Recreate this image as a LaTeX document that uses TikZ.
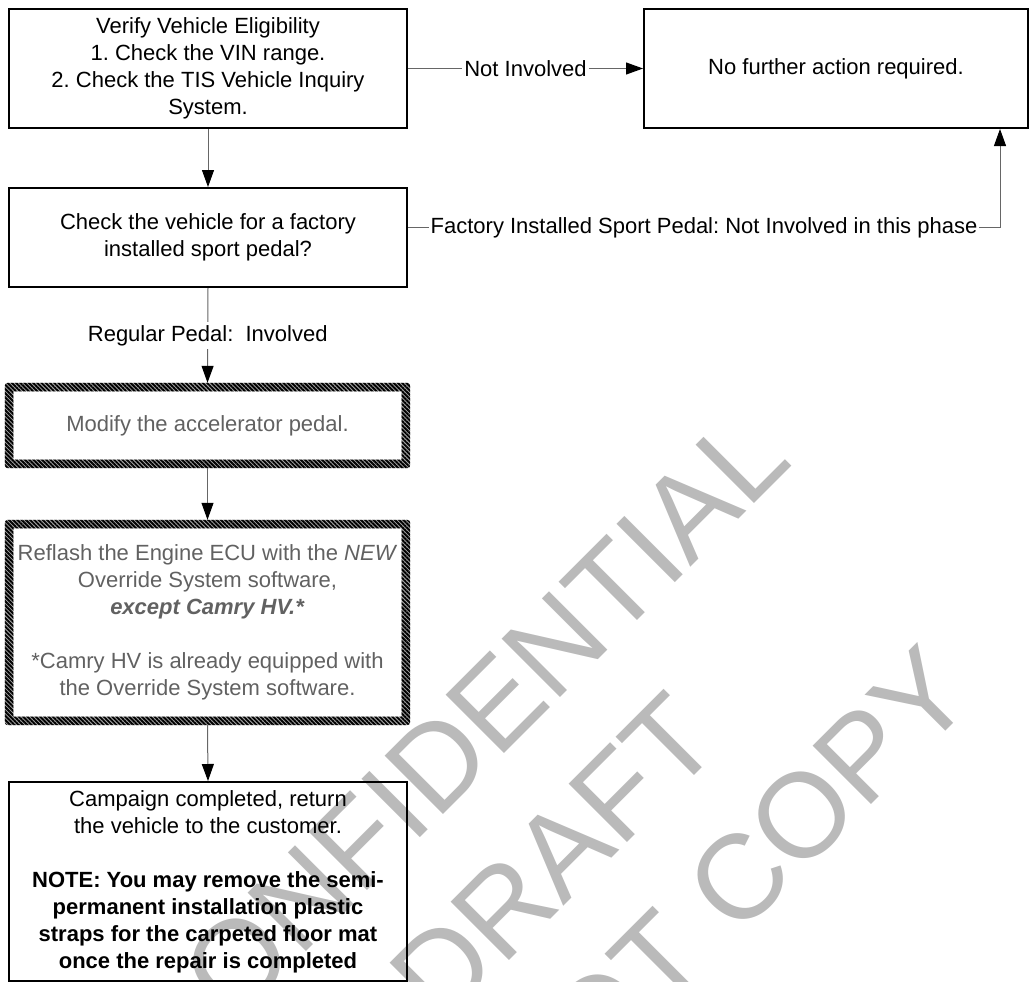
\documentclass[tikz,border=0pt]{standalone}
\usepackage{fontspec}
\setmainfont{Liberation Sans}
\newfontfamily\wmfont{Liberation Sans}
\usetikzlibrary{arrows.meta,patterns.meta}
\frenchspacing
\begin{document}
\frenchspacing
\begin{tikzpicture}[x=1pt,y=-1pt,
  txt/.style={font=\fontsize{22}{27}\selectfont\frenchspacing},
  box/.style={txt, draw=black, line width=2pt, inner sep=0pt, align=center},
  hbox/.style={txt, inner sep=0pt, align=center, text=black!62},
  conn/.style={draw=black!60, line width=1pt, -{Triangle[length=17pt,width=12pt,color=black]}},
  lbl/.style={txt, fill=white, inner xsep=2pt, inner ysep=3pt, text=black},
  hatchbase/.style={fill=black!35, even odd rule},
  hatch/.style={pattern={Lines[angle=-45,distance=3pt,line width=1.9pt]}, pattern color=black, even odd rule},
  wm/.style={rotate=45, anchor=base west, inner sep=0pt, text=black!27, font=\wmfont\fontsize{120}{120}\selectfont}]

\useasboundingbox (0,0) rectangle (1031,982);

% watermark
\begin{scope}
\clip (0,0) rectangle (1031,982);
\node[wm] (wm1) at (172,1086) {CONFIDENTIAL};
\node[wm] (wm2) at (441,1029) {DRAFT};
\node[wm] (wm3) at (383.5,1292.5) {DO NOT COPY};
\end{scope}

% boxes
\node[box, minimum width=398pt, minimum height=119pt] (b1) at (208,68.5)
  {Verify Vehicle Eligibility\\1. Check the VIN range.\\2. Check the TIS Vehicle Inquiry\\System.};
\node[box, minimum width=398pt, minimum height=99pt] (b2) at (208,237.5)
  {Check the vehicle for a factory\\installed sport pedal?};
\node[hbox, minimum width=405pt, minimum height=85pt] (b3) at (207.5,425.5)
  {Modify the accelerator pedal.};
\node[hbox, minimum width=405pt, minimum height=205pt] (b4) at (207.5,622.5)
  {Reflash the Engine ECU with the \textit{NEW}\\Override System software,\\\textbf{\textit{except Camry HV.*}}\\[27pt]*Camry HV is already equipped with\\the Override System software.};
\node[box, minimum width=398pt, minimum height=199pt] (b5) at (208,881.5)
  {Campaign completed, return\\the vehicle to the customer.\\[27pt]\textbf{NOTE: You may remove the semi-}\\\textbf{permanent installation plastic}\\\textbf{straps for the carpeted floor mat}\\\textbf{once the repair is completed}};
\node[box, minimum width=384pt, minimum height=119pt] (b6) at (836,68.5)
  {No further action required.};

% hatched borders
\foreach \hs in {hatchbase,hatch}{
  \fill[\hs]
    [rounded corners=3pt] (b3.north west) rectangle (b3.south east)
    [sharp corners] ([xshift=8.5pt,yshift=-8.5pt]b3.north west) rectangle ([xshift=-8.5pt,yshift=8.5pt]b3.south east);
  \fill[\hs]
    [rounded corners=3pt] (b4.north west) rectangle (b4.south east)
    [sharp corners] ([xshift=8.5pt,yshift=-8.5pt]b4.north west) rectangle ([xshift=-8.5pt,yshift=8.5pt]b4.south east);
}

% connectors
\draw[conn] (b1.south) -- (b2.north);
\draw[conn] (b1.east) -- node[lbl] (l1) {Not Involved} (b6.west);
\draw[conn] (b2.south) -- node[lbl] (l2) {Regular Pedal:\ \ Involved} (b3.north);
\draw[conn] (b3.south) -- (b4.north);
\draw[conn] (b4.south) -- (b5.north);
\coordinate (k1) at (1000,227.5);
\draw[conn] (b2.east |- k1) -- node[lbl] (l3) {Factory Installed Sport Pedal: Not Involved in this phase} (k1) -- (k1 |- b6.south);
\end{tikzpicture}
\end{document}
